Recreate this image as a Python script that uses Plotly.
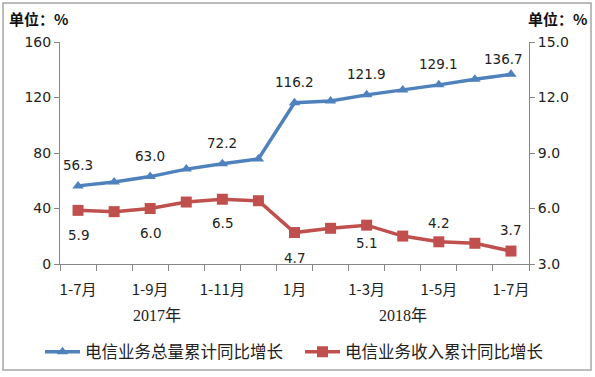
import plotly.graph_objects as go

categories = ["1-7月", "1-8月", "1-9月", "1-10月", "1-11月", "1-12月",
              "1月", "1-2月", "1-3月", "1-4月", "1-5月", "1-6月", "1-7月"]
tick_labels = ["1-7月", "", "1-9月", "", "1-11月", "", "1月", "", "1-3月", "", "1-5月", "", "1-7月"]
volume_growth = [56.3, 59.1, 63.0, 68.4, 72.2, 75.7, 116.2, 117.5, 121.9, 125.4, 129.1, 133.1, 136.7]
revenue_growth = [5.9, 5.83, 6.0, 6.35, 6.5, 6.42, 4.7, 4.93, 5.1, 4.51, 4.2, 4.12, 3.7]
volume_labels = ["56.3", "", "63.0", "", "72.2", "", "116.2", "", "121.9", "", "129.1", "", "136.7"]
revenue_labels = ["5.9", "", "6.0", "", "6.5", "", "4.7", "", "5.1", "", "4.2", "", "3.7"]
years = ["2017年", "2018年"]
year_pos = [2.2, 9.0]
series_names = ["电信业务总量累计同比增长", "电信业务收入累计同比增长"]

# style-only offsets for data labels (px)
vol_shift = [21] * 12 + [15]
vol_xshift = [0] * 12 + [-7]
rev_shift = [-25, 0, -24, 0, -24, 0, -25, 0, -18, 0, 19, 0, 21]

BLUE = "#4F81BD"
RED = "#C0504D"
TXT = "#222222"
NUM_FONT = "DejaVu Sans, Verdana, sans-serif"
CJK = "Noto Sans CJK SC, sans-serif"

x = list(range(len(categories)))

fig = go.Figure()
fig.add_trace(go.Scatter(
    x=x, y=volume_growth, name=series_names[0], mode="lines+markers",
    line=dict(color=BLUE, width=3.5),
    marker=dict(symbol="triangle-up", size=10, color=BLUE),
    yaxis="y", cliponaxis=False, legend="legend"))
fig.add_trace(go.Scatter(
    x=x, y=revenue_growth, name=series_names[1], mode="lines+markers",
    line=dict(color=RED, width=3.5),
    marker=dict(symbol="square", size=11, color=RED),
    yaxis="y2", cliponaxis=False, legend="legend2"))

ann = []
for i, t in enumerate(volume_labels):
    if t:
        ann.append(dict(x=x[i], y=volume_growth[i], xref="x", yref="y", text=t,
                        showarrow=False, yshift=vol_shift[i], xshift=vol_xshift[i],
                        font=dict(family=NUM_FONT, size=13.5, color=TXT)))
for i, t in enumerate(revenue_labels):
    if t:
        ann.append(dict(x=x[i], y=revenue_growth[i], xref="x", yref="y2", text=t,
                        showarrow=False, yshift=rev_shift[i],
                        font=dict(family=NUM_FONT, size=13.5, color=TXT)))
for yl, xp in zip(years, year_pos):
    ann.append(dict(x=xp, y=-0.23, xref="x", yref="paper", text=yl, showarrow=False,
                    yanchor="middle",
                    font=dict(family="Liberation Serif, Noto Sans CJK SC, serif", size=16, color=TXT)))
ann.append(dict(x=-0.112, y=1.107, xref="paper", yref="paper", text="<b>单位：%</b>",
                showarrow=False, xanchor="left", yanchor="middle",
                font=dict(family=CJK, size=15, color="#111111")))
ann.append(dict(x=1.128, y=1.107, xref="paper", yref="paper", text="<b>单位：%</b>",
                showarrow=False, xanchor="right", yanchor="middle",
                font=dict(family=CJK, size=15, color="#111111")))

leg_common = dict(orientation="h", xanchor="left", yanchor="middle",
                  font=dict(family=CJK, size=16.5, color=TXT),
                  itemwidth=35, bgcolor="rgba(0,0,0,0)")

fig.update_layout(
    width=595, height=377,
    margin=dict(l=60, r=66, t=42, b=113, autoexpand=False),
    paper_bgcolor="white", plot_bgcolor="white",
    showlegend=True,
    legend=dict(x=(40 - 60) / 469, y=(264 - 352) / 222, **leg_common),
    legend2=dict(x=(300 - 60) / 469, y=(264 - 352) / 222, **leg_common),
    xaxis=dict(range=[-0.5, 12.5], tickmode="array", tickvals=x, ticktext=tick_labels,
               ticks="", showgrid=False, zeroline=False, showline=True,
               linecolor="#868686", linewidth=1, ticklabelstandoff=12,
               tickfont=dict(family=CJK, size=15, color=TXT),
               minor=dict(tickmode="array", tickvals=[i - 0.5 for i in range(14)],
                          ticks="outside", ticklen=6, tickcolor="#868686", showgrid=False)),
    yaxis=dict(range=[0, 160], tickvals=[0, 40, 80, 120, 160], showgrid=False,
               zeroline=False, showline=True, linecolor="#868686", linewidth=1,
               ticks="outside", ticklen=5, tickcolor="#868686",
               tickfont=dict(family=NUM_FONT, size=14, color=TXT)),
    yaxis2=dict(range=[3, 15], tickvals=[3, 6, 9, 12, 15], ticktext=["3.0", "6.0", "9.0", "12.0", "15.0"],
                overlaying="y", side="right", showgrid=False, zeroline=False,
                showline=True, linecolor="#868686", linewidth=1,
                ticks="outside", ticklen=5, tickcolor="#868686",
                tickfont=dict(family=NUM_FONT, size=14, color=TXT)),
    annotations=ann,
    shapes=[dict(type="rect", xref="paper", yref="paper",
                 x0=(3 - 60) / 469, x1=(591 - 60) / 469,
                 y0=(264 - 370) / 222, y1=(264 - 3) / 222,
                 line=dict(color="#A6A6A6", width=1.5))],
)

fig.write_html("out.html", config={"displayModeBar": False},
               post_script="document.body.style.margin='0';document.body.style.overflow='hidden';")
